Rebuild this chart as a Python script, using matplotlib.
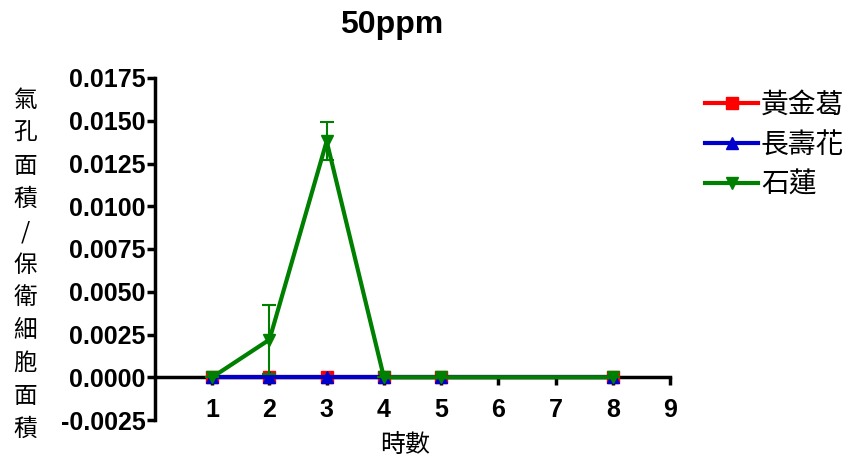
import matplotlib
matplotlib.use('Agg')
import matplotlib.pyplot as plt
import numpy as np

# data
hours = [1, 2, 3, 4, 5, 8]
names = ['黃金葛', '長壽花', '石蓮']
pothos = [0, 0, 0, 0, 0, 0]
kalanchoe = [0, 0, 0, 0, 0, 0]
echeveria = [0, 0.0022, 0.0138, 0, 0, 0]
echeveria_err = [0, 0.0020, 0.0011, 0, 0, 0]

cjk = ['Noto Sans CJK TC', 'DejaVu Sans']
num = 'Liberation Sans'

fig = plt.figure(figsize=(8.48, 4.62), dpi=100)
ax = fig.add_axes([155/848, 1-420/462, (670-155)/848, (420-78)/462])

lw = 3
ax.plot(hours, pothos, color='#ff0000', marker='s', ms=8, lw=lw, label=names[0], zorder=3)
ax.plot(hours, kalanchoe, color='#0000cc', marker='^', ms=9, lw=lw, label=names[1], zorder=4)
eb = ax.errorbar(hours, echeveria, yerr=echeveria_err, color='#008000', marker='v', ms=9,
                 lw=lw, elinewidth=1.5, capsize=5, capthick=1.5, zorder=5)
ax.plot([], [], color='#008000', marker='v', ms=9, lw=lw, label=names[2])

ax.set_xlim(0, 9)
ax.set_ylim(-0.0025, 0.0175)
ax.set_xticks(range(1, 10))
yt = np.arange(-0.0025, 0.0176, 0.0025)
ax.set_yticks(yt)
ax.set_yticklabels(['%.4f' % v for v in yt])

for s in ['top', 'right']:
    ax.spines[s].set_visible(False)
ax.spines['bottom'].set_position(('data', 0))
ax.spines['left'].set_linewidth(2.5)
ax.spines['bottom'].set_linewidth(2.5)
ax.tick_params(axis='both', width=2.5, length=6, direction='out')
ax.tick_params(axis='x', pad=9)
ax.tick_params(axis='y', pad=1)
for t in ax.get_xticklabels() + ax.get_yticklabels():
    t.set_fontfamily(num)
    t.set_fontweight('bold')
    t.set_fontsize(18)

fig.text(392/848, 1-25/462, '50ppm', ha='center', va='center', fontfamily=num,
         fontweight='bold', fontsize=23)
fig.text(405/848, 1-445/462, '時數', ha='center', va='center', fontfamily=cjk,
         fontsize=18, fontweight='medium')
ylab = '氣孔面積/保衛細胞面積'
fig.text(25/848, 1-265/462, '\n'.join(ylab), ha='center', va='center', fontfamily=cjk,
         fontsize=17, linespacing=1.55)

leg = ax.legend(loc='upper left', bbox_to_anchor=(1.02, 1.04), frameon=False,
                prop={'family': cjk, 'size': 20}, handlelength=1.9, handletextpad=0.1,
                labelspacing=0.36)

fig.savefig('out.png', dpi=100)
